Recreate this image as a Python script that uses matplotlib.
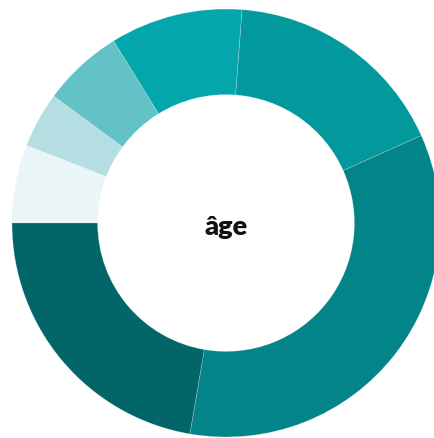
import matplotlib
matplotlib.use("Agg")
import matplotlib.pyplot as plt

categories = ["< 18 ans", "18-24 ans", "25-34 ans", "35-44 ans", "45-54 ans", "55-64 ans", "65 ans et +"]
values = [5.9, 4.2, 6.1, 10.0, 17.1, 34.4, 22.3]
colors = ["#e9f5f6", "#b5dee2", "#63c2c5", "#03a6ab", "#02989c", "#028489", "#026669"]
center_label = "âge"

W, H = 434, 438
fig = plt.figure(figsize=(W / 100, H / 100), dpi=100)
ax = fig.add_axes([0, 0, 1, 1])

R = 214.0
cx, cy = 226.0, 223.0

ax.pie(values, colors=colors, startangle=180, counterclock=False, radius=1.0,
       wedgeprops=dict(width=0.4, edgecolor=(1, 1, 1, 0.35), linewidth=0.4))
ax.set_aspect("auto")
ax.set_xlim(-cx / R, (W - cx) / R)
ax.set_ylim(-(H - cy) / R, cy / R)
ax.axis("off")

ax.text(0, -0.02, center_label, ha="center", va="center", fontsize=19.5,
        fontweight="heavy", family=["Lato", "DejaVu Sans"], color="#111111")

fig.savefig("out.png", dpi=100)
